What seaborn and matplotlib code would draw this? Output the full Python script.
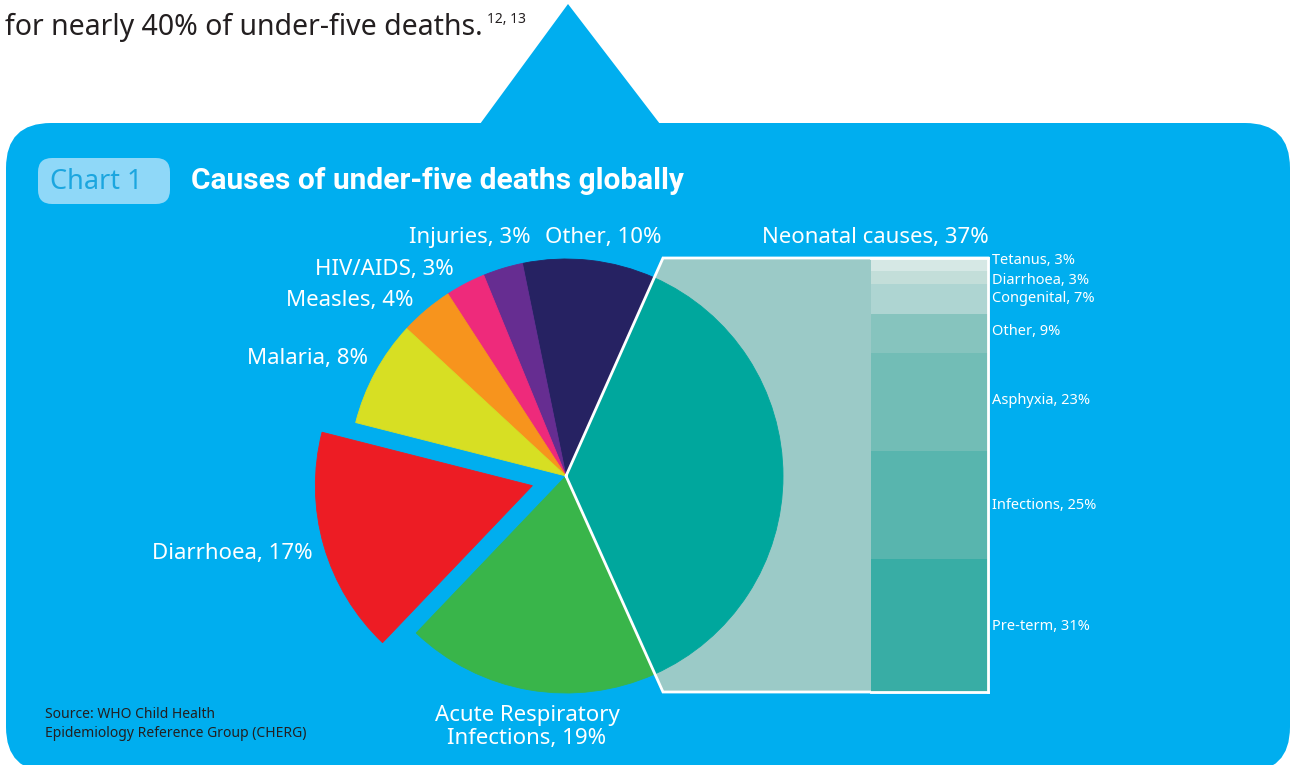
import numpy as np
import matplotlib
matplotlib.use('Agg')
import matplotlib.pyplot as plt
from matplotlib.patches import Polygon, FancyBboxPatch
import seaborn as sns

# Causes of under-five deaths (share, %)
causes = ['Neonatal causes', 'Other', 'Injuries', 'HIV/AIDS', 'Measles',
          'Malaria', 'Diarrhoea', 'Acute Respiratory\nInfections']
shares = [37, 10, 3, 3, 4, 8, 17, 19]
cause_colors = ['#00A79D', '#262262', '#662D91', '#EE2A7B', '#F7941D',
                '#D7DF23', '#ED1C24', '#39B54A']

# Breakdown of neonatal causes, bottom to top
neonatal = ['Pre-term', 'Infections', 'Asphyxia', 'Other', 'Congenital',
            'Diarrhoea', 'Tetanus']
neonatal_shares = [31, 25, 23, 9, 7, 3, 3]
neonatal_colors = ['#38ADA5', '#58B5AE', '#72BDB6', '#86C4BE', '#AED5D2',
                   '#C3DED9', '#D6E8E5']

sns.set_style('white')
plt.rcParams['font.family'] = ['Noto Sans', 'DejaVu Sans']

W, H = 1292, 765
fig = plt.figure(figsize=(W / 100, H / 100), dpi=100)
ax = fig.add_axes([0, 0, 1, 1])


def Y(y):
    # pixel row (from top) -> data y
    return H - y


BLUE = '#00AEEF'

# blue panel with pointer
ax.add_patch(FancyBboxPatch((6, Y(772)), 1284, 772 - 123,
                            boxstyle='round,pad=0,rounding_size=45',
                            fc=BLUE, ec='none', zorder=0))
ax.add_patch(Polygon([(480, Y(124)), (568, Y(4)), (660, Y(124))],
                     closed=True, fc=BLUE, ec='none', zorder=0))

# text above the panel
ax.text(5, Y(27), 'for nearly 40% of under-five deaths.', fontsize=20.5,
        color='#231F20', va='center', ha='left')
ax.text(487, Y(19), '12, 13', fontsize=10, color='#231F20', va='center')

# chart tag + title
ax.add_patch(FancyBboxPatch((38, Y(204)), 132, 46,
                            boxstyle='round,pad=0,rounding_size=14',
                            fc='#8FD8F8', ec='none', zorder=1))
ax.text(50, Y(182), 'Chart 1', fontsize=19.5, color='#1BA6DF', va='center')
ax.text(191, Y(181), 'Causes of under-five deaths globally', fontsize=21.5,
        color='white', fontweight='bold', va='center',
        family=['Roboto', 'DejaVu Sans'])

# pie
cx, cy, R = 566, Y(476), 217
start = -180 * shares[0] / sum(shares)
explode = [0, 0, 0, 0, 0, 0, 35, 0]   # pie offsets are in data units

# light panel behind the neonatal slice
poly = [(cx, cy), (663, Y(258)), (988, Y(258)), (988, Y(692)),
        (663, Y(692))]
ax.add_patch(Polygon(poly, closed=True, fc='#9BCAC7', ec='none', zorder=0.5))

wedges, _ = ax.pie(shares, colors=cause_colors, startangle=start,
                   counterclock=True, center=(cx, cy), radius=R,
                   explode=explode, wedgeprops=dict(linewidth=0.6))
for w in wedges:
    w.set_edgecolor(w.get_facecolor())
    w.set_zorder(1)

px, py = zip(*(poly + [poly[0]]))
ax.plot(px, py, color='white', lw=2, zorder=2, solid_joinstyle='miter')

ax.set_xlim(0, W)
ax.set_ylim(0, H)
ax.set_aspect('auto')
ax.axis('off')

# pie labels
lab = dict(fontsize=16, color='white', va='center')
ax.text(470, Y(237), 'Injuries, 3%', ha='center', **lab)
ax.text(603, Y(237), 'Other, 10%', ha='center', **lab)
ax.text(989, Y(237), 'Neonatal causes, 37%', ha='right', **lab)
ax.text(384, Y(269), 'HIV/AIDS, 3%', ha='center', **lab)
ax.text(413, Y(300), 'Measles, 4%', ha='right', **lab)
ax.text(368, Y(358), 'Malaria, 8%', ha='right', **lab)
ax.text(313, Y(553), 'Diarrhoea, 17%', ha='right', **lab)
ax.text(527, Y(727), 'Acute Respiratory\nInfections, 19%', ha='center',
        linespacing=1.12, **lab)

# source
ax.text(45, Y(724), 'Source: WHO Child Health\nEpidemiology Reference Group (CHERG)',
        fontsize=10, color='#231F20', va='center', linespacing=1.4)

# stacked bar of neonatal causes
bax = fig.add_axes([871 / W, (H - 692) / H, (988 - 871) / W, (692 - 258) / H])
bax.set_zorder(2)
bax.patch.set_alpha(0)
cum = np.cumsum(neonatal_shares)
for top, col in reversed(list(zip(cum, neonatal_colors))):
    sns.barplot(x=['n'], y=[top], color=col, width=1, saturation=1,
                linewidth=0, ax=bax)
bax.set_xlim(-0.5, 0.5)
bax.set_ylim(0, cum[-1])
bax.set_xticks([])
bax.set_yticks([])
bax.set_xlabel('')
bax.set_ylabel('')
for side in ['top', 'right', 'bottom']:
    bax.spines[side].set_color('white')
    bax.spines[side].set_linewidth(2)
bax.spines['left'].set_visible(False)

# small vertical nudges (points) so the two thin top labels don't collide
nudge = [-1, 0, 1, 1, 0, -2, 3]
mids = cum - np.array(neonatal_shares) / 2
for name, val, mid, dy in zip(neonatal, neonatal_shares, mids, nudge):
    bax.annotate(f'{name}, {val}%', xy=(0.5, mid), xytext=(3, dy),
                 textcoords='offset points', fontsize=10.5, color='white',
                 va='center', ha='left', annotation_clip=False)

fig.savefig('out.png', dpi=100)
